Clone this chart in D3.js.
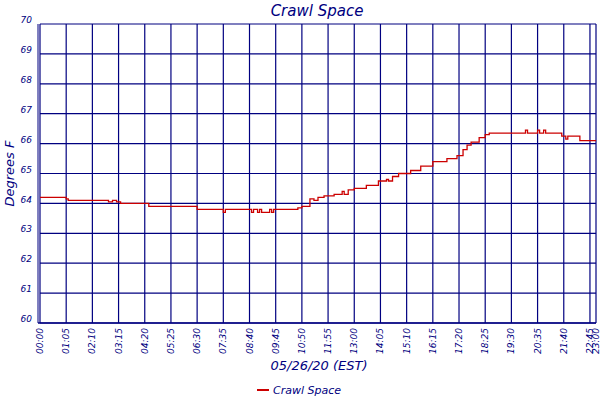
<!DOCTYPE html>
<html>
<head>
<meta charset="utf-8" />
<script src="https://d3js.org/d3.v7.min.js"></script>
<style>
  body { margin: 0; background: #fff; }
  text { font-family: 'DejaVu Sans', sans-serif; font-style: italic; fill: #000080; }
</style>
</head>
<body>
<div id="chart"></div>
<script>
// readings (time, °F), step changes
const times = ['00:00','01:05','01:10','01:15','02:50','03:00','03:10','03:20','04:30','05:00','06:30','07:30','07:35','07:40','08:40','08:45','08:50','09:00','09:05','09:10','09:30','09:35','09:40','10:40','10:50','11:10','11:20','11:30','11:45','12:10','12:30','12:35','12:45','13:00','13:30','14:00','14:20','14:25','14:35','14:50','15:20','15:45','16:15','16:50','17:15','17:30','17:40','17:50','18:10','18:25','18:35','20:05','20:10','20:15','20:35','20:40','20:50','20:55','21:35','21:45','21:50','21:55','22:20','23:00'];
const temps = [64.2,64.15,64.1,64.1,64.05,64.1,64.05,64.0,63.9,63.9,63.8,63.8,63.7,63.8,63.8,63.7,63.8,63.7,63.8,63.7,63.8,63.7,63.8,63.85,63.9,64.15,64.1,64.2,64.25,64.3,64.4,64.3,64.45,64.5,64.6,64.75,64.8,64.75,64.9,65.0,65.1,65.25,65.4,65.5,65.6,65.8,65.95,66.05,66.2,66.3,66.35,66.45,66.35,66.35,66.45,66.35,66.45,66.35,66.25,66.15,66.25,66.25,66.1,66.1];
const tickLabels = ['00:00','01:05','02:10','03:15','04:20','05:25','06:30','07:35','08:40','09:45','10:50','11:55','13:00','14:05','15:10','16:15','17:20','18:25','19:30','20:35','21:40','22:45','23:00'];
const yTicks = [60,61,62,63,64,65,66,67,68,69,70];

const toMin = s => +s.slice(0,2) * 60 + +s.slice(3);
const data = times.map((t, i) => ({ m: toMin(t), v: temps[i] }));

const width = 600, height = 400;
const margin = { top: 24, right: 4, bottom: 77, left: 40 };

const svg = d3.select('#chart').append('svg').attr('width', width).attr('height', height);

const x = d3.scaleLinear().domain([0, 1380]).range([margin.left, width - margin.right]);
const y = d3.scaleLinear().domain([60, 70]).range([height - margin.bottom, margin.top]);

// grid
svg.append('g').selectAll('line').data(yTicks).join('line')
  .attr('x1', margin.left).attr('x2', width - margin.right)
  .attr('y1', d => y(d)).attr('y2', d => y(d))
  .attr('stroke', '#000080').attr('stroke-width', 1.2);
svg.append('g').selectAll('line').data(tickLabels).join('line')
  .attr('x1', d => x(toMin(d))).attr('x2', d => x(toMin(d)))
  .attr('y1', margin.top).attr('y2', height - margin.bottom)
  .attr('stroke', '#000080').attr('stroke-width', 1.2);
svg.append('line').attr('x1', margin.left - 2).attr('x2', margin.left - 2)
  .attr('y1', margin.top).attr('y2', height - margin.bottom).attr('stroke', '#000080');
svg.append('line').attr('x1', margin.left - 2).attr('x2', width - margin.right)
  .attr('y1', height - margin.bottom).attr('y2', height - margin.bottom).attr('stroke', '#000080').attr('stroke-width', 1.5);

// y labels
svg.append('g').selectAll('text').data(yTicks).join('text')
  .attr('x', margin.left - 8).attr('y', d => y(d)).attr('dy', '-0.1em')
  .attr('text-anchor', 'end').attr('font-size', 9).text(d => d);

// x labels
svg.append('g').selectAll('text').data(tickLabels).join('text')
  .attr('transform', d => `translate(${Math.min(x(toMin(d)) + 3, width - 1)},${height - margin.bottom + 5}) rotate(-90)`)
  .attr('text-anchor', 'end').attr('font-size', 9).text(d => d);

// line
svg.append('path').datum(data)
  .attr('fill', 'none').attr('stroke', '#cc0000').attr('stroke-width', 1.3)
  .attr('d', d3.line().x(d => x(d.m)).y(d => y(d.v)).curve(d3.curveStepAfter));

// titles
svg.append('text').attr('x', 317).attr('y', 16).attr('text-anchor', 'middle')
  .attr('font-size', 15).attr('font-family', 'DejaVu Serif').text('Crawl Space');
svg.append('text').attr('transform', `translate(14,${(margin.top + height - margin.bottom) / 2}) rotate(-90)`)
  .attr('text-anchor', 'middle').attr('font-size', 13).attr('font-family', 'DejaVu Serif').text('Degrees F');
svg.append('text').attr('x', 319).attr('y', 370).attr('text-anchor', 'middle')
  .attr('font-size', 13).attr('font-family', 'DejaVu Serif').text('05/26/20 (EST)');

// legend
svg.append('line').attr('x1', 257).attr('x2', 269).attr('y1', 390).attr('y2', 390)
  .attr('stroke', '#cc0000').attr('stroke-width', 2);
svg.append('text').attr('x', 273).attr('y', 394).attr('font-size', 11)
  .attr('font-family', 'DejaVu Serif').text('Crawl Space');
</script>
</body>
</html>
